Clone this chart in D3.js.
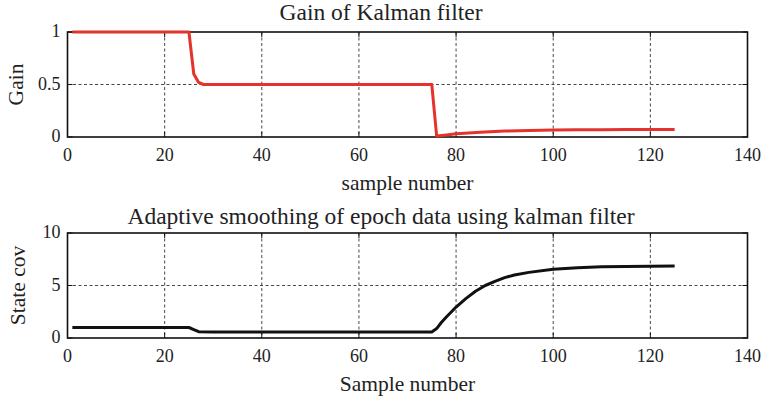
<!DOCTYPE html>
<html>
<head>
<meta charset="utf-8">
<script src="https://cdn.jsdelivr.net/npm/d3@7"></script>
<style>
  html, body { margin: 0; padding: 0; background: #fff; }
  svg { display: block; }
</style>
</head>
<body>
<svg id="chart"></svg>
<script>
// Top panel: Kalman gain per sample
const gainSamples = [1, 10, 20, 25, 26, 27, 28, 30, 40, 50, 60, 70, 75, 76, 78, 80, 85, 90, 95, 100, 105, 110, 115, 120, 125];
const gainValues  = [1, 1, 1, 1, 0.6, 0.52, 0.5, 0.5, 0.5, 0.5, 0.5, 0.5, 0.5, 0.01, 0.02, 0.03, 0.045, 0.056, 0.062, 0.066, 0.068, 0.07, 0.071, 0.071, 0.071];

// Bottom panel: state covariance per sample
const covSamples = [1, 10, 20, 25, 26, 27, 30, 40, 50, 60, 70, 75, 76, 77, 78, 80, 82, 84, 86, 88, 90, 92, 95, 100, 105, 110, 115, 120, 125];
const covValues  = [1, 1, 1, 1, 0.8, 0.6, 0.58, 0.58, 0.58, 0.58, 0.58, 0.58, 0.9, 1.5, 2.0, 2.95, 3.75, 4.45, 5.0, 5.4, 5.75, 6.0, 6.25, 6.55, 6.7, 6.78, 6.82, 6.84, 6.85];

const xTicks = [0, 20, 40, 60, 80, 100, 120, 140];
const gainTicks = [0, 0.5, 1];
const gainTickLabels = ["0", "0.5", "1"];
const covTicks = [0, 5, 10];
const covTickLabels = ["0", "5", "10"];

const W = 762, H = 399;
const FONT = "Liberation Serif, Times New Roman, serif";
const svg = d3.select("#chart").attr("width", W).attr("height", H);

const panels = [
  {
    top: 32, bottom: 137,
    xs: gainSamples, ys: gainValues, yDomain: [0, 1],
    yTicks: gainTicks, yTickLabels: gainTickLabels,
    color: "#e3332a",
    title: "Gain of Kalman filter", titleY: 12,
    xLabel: "sample number", xLabelY: 182,
    yLabel: "Gain", yLabelX: 15
  },
  {
    top: 233, bottom: 338,
    xs: covSamples, ys: covValues, yDomain: [0, 10],
    yTicks: covTicks, yTickLabels: covTickLabels,
    color: "#111",
    title: "Adaptive smoothing of epoch data using kalman filter", titleY: 216,
    xLabel: "Sample number", xLabelY: 383,
    yLabel: "State cov", yLabelX: 17
  }
];

const left = 67.5, right = 747.5;
const x = d3.scaleLinear().domain([0, 140]).range([left, right]);

function label(g, size) {
  return g.append("text")
    .attr("font-family", FONT)
    .attr("font-size", size + "px")
    .attr("fill", "#222");
}

panels.forEach((p) => {
  const y = d3.scaleLinear().domain(p.yDomain).range([p.bottom, p.top]);
  const g = svg.append("g");

  // dashed grid
  xTicks.slice(1, -1).forEach((t) => {
    g.append("line")
      .attr("x1", x(t)).attr("x2", x(t))
      .attr("y1", p.top).attr("y2", p.bottom)
      .attr("stroke", "#333").attr("stroke-width", 0.9)
      .attr("stroke-dasharray", "3 2.5");
  });
  p.yTicks.slice(1, -1).forEach((t) => {
    g.append("line")
      .attr("x1", left).attr("x2", right)
      .attr("y1", y(t)).attr("y2", y(t))
      .attr("stroke", "#333").attr("stroke-width", 0.9)
      .attr("stroke-dasharray", "3 2.5");
  });

  // inward ticks on all four sides
  const tl = 5;
  xTicks.forEach((t) => {
    g.append("line").attr("x1", x(t)).attr("x2", x(t))
      .attr("y1", p.bottom).attr("y2", p.bottom - tl).attr("stroke", "#111");
    g.append("line").attr("x1", x(t)).attr("x2", x(t))
      .attr("y1", p.top).attr("y2", p.top + tl).attr("stroke", "#111");
  });
  p.yTicks.forEach((t) => {
    g.append("line").attr("x1", left).attr("x2", left + tl)
      .attr("y1", y(t)).attr("y2", y(t)).attr("stroke", "#111");
    g.append("line").attr("x1", right).attr("x2", right - tl)
      .attr("y1", y(t)).attr("y2", y(t)).attr("stroke", "#111");
  });

  // frame
  g.append("rect")
    .attr("x", left).attr("y", p.top)
    .attr("width", right - left).attr("height", p.bottom - p.top)
    .attr("fill", "none").attr("stroke", "#111").attr("stroke-width", 1.6);

  // data line
  const pts = p.xs.map((v, i) => [v, p.ys[i]]);
  const line = d3.line().x((d) => x(d[0])).y((d) => y(d[1]));
  g.append("path")
    .datum(pts)
    .attr("d", line)
    .attr("fill", "none")
    .attr("stroke", p.color)
    .attr("stroke-width", 3)
    .attr("stroke-linejoin", "round");

  // tick labels
  xTicks.forEach((t) => {
    label(g, 18)
      .attr("x", x(t)).attr("y", p.bottom + 24)
      .attr("text-anchor", "middle")
      .text(t);
  });
  p.yTicks.forEach((t, i) => {
    label(g, 18)
      .attr("x", left - 7).attr("y", y(t) + 5)
      .attr("text-anchor", "end")
      .text(p.yTickLabels[i]);
  });

  // titles and labels
  label(g, 23.5)
    .attr("x", W / 2).attr("y", p.titleY)
    .attr("dy", "0.35em")
    .attr("text-anchor", "middle")
    .text(p.title);
  label(g, 21.5)
    .attr("x", (left + right) / 2).attr("y", p.xLabelY)
    .attr("dy", "0.35em")
    .attr("text-anchor", "middle")
    .text(p.xLabel);
  label(g, 21.5)
    .attr("transform", `translate(${p.yLabelX},${(p.top + p.bottom) / 2}) rotate(-90)`)
    .attr("dy", "0.35em")
    .attr("text-anchor", "middle")
    .text(p.yLabel);
});
</script>
</body>
</html>
